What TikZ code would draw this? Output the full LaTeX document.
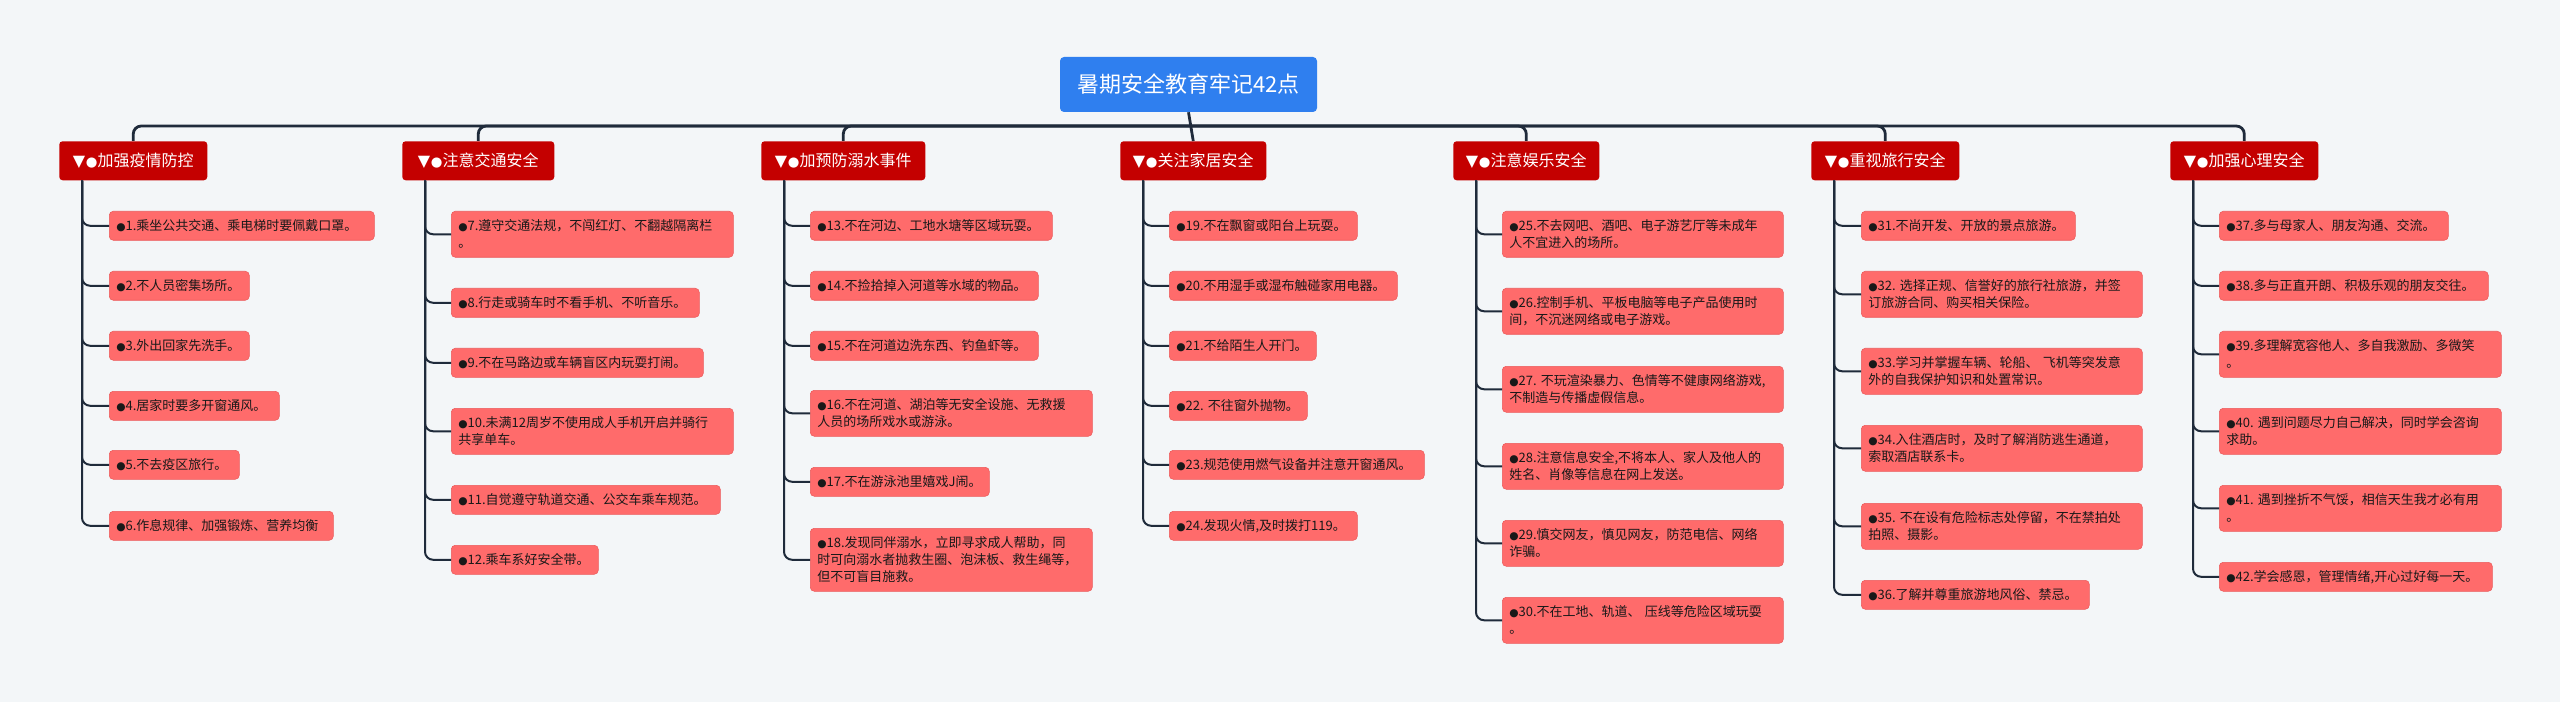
\documentclass[tikz,border=0pt]{standalone}
\usepackage{fontspec}
\setmainfont{Noto Sans CJK SC}
\newfontfamily\symfont{DejaVu Sans}
\usetikzlibrary{calc}

\definecolor{paperGray}{HTML}{F3F6F8}
\definecolor{rootBlue}{HTML}{2F7FEF}
\definecolor{catRed}{HTML}{C40000}
\definecolor{leafRed}{HTML}{FF6B6B}
\definecolor{leafEdge}{HTML}{EC5A5A}
\definecolor{linkNavy}{HTML}{1F2B3B}

\newcommand{\leafdot}{{\symfont\fontsize{8}{8}\selectfont ●}}
\newcommand{\catmark}{{\symfont ▼\kern0.5pt{\fontsize{10}{10}\selectfont ●}}}

\begin{document}
\begin{tikzpicture}
[x=0.75pt,y=-0.75pt,
  rootDecorate/.style={fill=rootBlue,text=white,rounded corners=3pt,
    minimum width=192.75pt,minimum height=41.25pt,inner sep=0pt,
    font=\fontsize{16.5}{18}\selectfont},
  catDecorate/.style={fill=catRed,text=white,rounded corners=2.5pt,
    anchor=north west,minimum height=29.25pt,inner sep=0pt,
    font=\fontsize{12}{14}\selectfont},
  leafDecorate/.style={fill=leafRed,draw=leafEdge,line width=0.4pt,
    rounded corners=3pt,anchor=north west,align=left,
    inner xsep=5.25pt,inner ysep=2pt,text=black!90,
    font=\fontsize{9.75}{12.75}\selectfont},
  trunkDecorate/.style={draw=linkNavy,line width=2.1pt},
  branchDecorate/.style={draw=linkNavy,line width=1.5pt,rounded corners=6pt}]
%% background
\fill[paperGray] (0,0) rectangle (2560,702);
\useasboundingbox (0,0) rectangle (2560,702);
%% root
\node (root) at (1188.5,84.5) [rootDecorate] {暑期安全教育牢记42点};
%% categories
\foreach \col/\x/\boxw/\label in {
  1/59/148/加强疫情防控,
  2/402/152/注意交通安全,
  3/761/164/加预防溺水事件,
  4/1120/146/关注家居安全,
  5/1453/146/注意娱乐安全,
  6/1811/148/重视旅行安全,
  7/2170/148/加强心理安全}
{
  \pgfmathsetmacro\catw{\boxw*0.75}
  \node (c\col) at (\x,141) [catDecorate,minimum width=\catw pt] {\catmark\label};
  \coordinate (t\col) at ($(c\col.south west)+(23,0)$);
}
%% bus
\coordinate (hub) at (1190,126);
\draw[trunkDecorate] (root.south) -- (c4.north);
\foreach \col in {1,2,3,5,6,7}
{
  \draw[trunkDecorate,rounded corners=6pt] (hub) -| (c\col.north);
}
%% leaves
\foreach \leafid/\col/\x/\y/\boxw/\boxh/\txt in {
  1/1/109/211/265/29/{乘坐公共交通、乘电梯时要佩戴口罩。},
  2/1/109/271/140/29/{不人员密集场所。},
  3/1/109/331/140/29/{外出回家先洗手。},
  4/1/109/391/170/29/{居家时要多开窗通风。},
  5/1/109/450/130/29/{不去疫区旅行。},
  6/1/109/511/224/29/{作息规律、加强锻炼、营养均衡},
  7/2/451/211/282/46/{遵守交通法规，不闯红灯、不翻越隔离栏\\。},
  8/2/451/288/248/29/{行走或骑车时不看手机、不听音乐。},
  9/2/451/348/252/29/{不在马路边或车辆盲区内玩耍打闹。},
  10/2/451/408/282/46/{未满12周岁不使用成人手机开启并骑行\\共享单车。},
  11/2/451/485/269/29/{自觉遵守轨道交通、公交车乘车规范。},
  12/2/451/545/147/29/{乘车系好安全带。},
  13/3/810/211/242/29/{不在河边、工地水塘等区域玩耍。},
  14/3/810/271/228/29/{不捡拾掉入河道等水域的物品。},
  15/3/810/331/228/29/{不在河道边洗东西、钓鱼虾等。},
  16/3/810/390/282/46/{不在河道、湖泊等无安全设施、无救援\\人员的场所戏水或游泳。},
  17/3/810/467/179/29/{不在游泳池里嬉戏J闹。},
  18/3/810/528/282/63/{发现同伴溺水，立即寻求成人帮助，同\\时可向溺水者抛救生圈、泡沫板、救生绳等，\\但不可盲目施救。},
  19/4/1169/211/188/29/{不在飘窗或阳台上玩耍。},
  20/4/1169/271/228/29/{不用湿手或湿布触碰家用电器。},
  21/4/1169/331/147/29/{不给陌生人开门。},
  22/4/1169/391/138/29/{~不往窗外抛物。},
  23/4/1169/450/255/29/{规范使用燃气设备并注意开窗通风。},
  24/4/1169/511/188/29/{发现火情,及时拨打119。},
  25/5/1502/211/281/46/{不去网吧、酒吧、电子游艺厅等未成年\\人不宜进入的场所。},
  26/5/1502/288/281/46/{控制手机、平板电脑等电子产品使用时\\间，不沉迷网络或电子游戏。},
  27/5/1502/366/281/46/{~不玩渲染暴力、色情等不健康网络游戏,\\不制造与传播虚假信息。},
  28/5/1502/443/281/46/{注意信息安全,不将本人、家人及他人的\\姓名、肖像等信息在网上发送。},
  29/5/1502/520/281/46/{慎交网友，慎见网友，防范电信、网络\\诈骗。},
  30/5/1502/597/281/46/{不在工地、轨道、~压线等危险区域玩耍\\。},
  31/6/1861/211/214/29/{不尚开发、开放的景点旅游。},
  32/6/1861/271/281/46/{~选择正规、信誉好的旅行社旅游，并签\\订旅游合同、购买相关保险。},
  33/6/1861/348/281/46/{学习并掌握车辆、轮船、~飞机等突发意\\外的自我保护知识和处置常识。},
  34/6/1861/425/281/46/{入住酒店时，及时了解消防逃生通道，\\索取酒店联系卡。},
  35/6/1861/503/281/46/{~不在设有危险标志处停留，不在禁拍处\\拍照、摄影。},
  36/6/1861/580/228/29/{了解并尊重旅游地风俗、禁忌。},
  37/7/2219/211/229/29/{多与母家人、朋友沟通、交流。},
  38/7/2219/271/269/29/{多与正直开朗、积极乐观的朋友交往。},
  39/7/2219/331/282/46/{多理解宽容他人、多自我激励、多微笑\\。},
  40/7/2219/408/282/46/{~遇到问题尽力自己解决，同时学会咨询\\求助。},
  41/7/2219/485/282/46/{~遇到挫折不气馁，相信天生我才必有用\\。},
  42/7/2219/562/273/29/{学会感恩，管理情绪,开心过好每一天。}}
{
  \pgfmathsetmacro\leafw{(\boxw-14)*0.75}
  \pgfmathsetmacro\leafh{\boxh*0.75}
  \node (l\leafid) at (\x,\y) [leafDecorate,text width=\leafw pt,minimum height=\leafh pt] {\leafdot\leafid.\txt};
  \draw[branchDecorate] (t\col) |- (l\leafid.west);
}
\end{tikzpicture}
\end{document}
